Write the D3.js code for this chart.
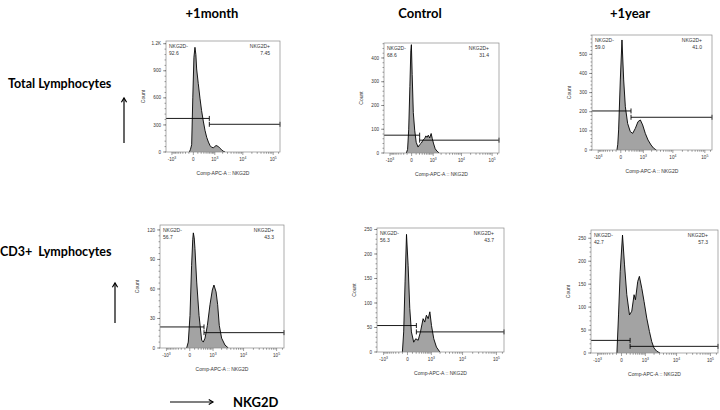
<!DOCTYPE html>
<html lang="en">
<head>
<meta charset="UTF-8">
<title>NKG2D histograms</title>
<style>
  body { margin: 0; background: #fff; }
  svg { display: block; }
  .big { font-family: Lato, "Open Sans", sans-serif; font-weight: bold; fill: #000; }
  .tiny { font-family: "Liberation Sans", Arial, sans-serif; fill: #333; }
  .hist { fill: #a3a3a3; stroke: none; }
  .outline { fill: none; stroke: #000; stroke-width: 0.9px; stroke-linejoin: round; }
  .gate { stroke: #000; stroke-width: 0.9px; fill: none; }
  .frame { fill: none; stroke: #8a8a8a; stroke-width: 0.7px; }
  .tick { stroke: #444; stroke-width: 0.5px; }
</style>
</head>
<body>
<svg width="720" height="410"></svg>
<script src="https://d3js.org/d3.v7.min.js"></script>
<script>

// ---- data ----
var columns = ["+1month", "Control", "+1year"];
var rows = ["Total Lymphocytes", "CD3+  Lymphocytes"];

// [NKG2D-APC value, count]
var histMonthTotal = [[-87,0],[-60,30],[-34,80],[-11,600],[11,1050],[32,1160],[52,1080],[70,920],
  [111,760],[161,596],[213,460],[277,343],[349,240],[431,163],[524,110],[623,72],[734,52],[869,47],
  [1000,60],[1124,72],[1260,66],[1380,61],[1543,45],[1838,25],[2066,10],[2455,0]];
var histControlTotal = [[-120,0],[-87,15],[-60,100],[-34,280],[-15,430],[-4,456],[11,330],[34,170],
  [65,96],[102,45],[154,25],[205,35],[268,42],[339,55],[413,61],[473,72],[537,66],[616,75],[709,63],
  [822,82],[918,60],[1044,38],[1197,18],[1395,8],[1702,0]];
var histYearTotal = [[-79,0],[-60,30],[-42,105],[-9,366],[22,575],[57,366],[96,226],[157,139],
  [242,96],[334,87],[455,113],[601,148],[760,157],[938,131],[1185,87],[1498,52],[1914,26],[2363,9],[2905,0]];
var histMonthCD3 = [[-60,0],[-27,6],[4,33],[34,84],[57,110],[70,117],[90,112],[108,101],[154,67],
  [225,33],[319,8],[386,6],[467,10],[594,23],[760,44],[938,59],[1078,64],[1287,57],[1467,44],
  [1668,23],[2007,10],[2597,3],[3335,0]];
var histControlCD3 = [[-102,0],[-73,41],[-44,143],[-17,240],[11,177],[42,89],[76,41],[131,20],
  [186,27],[264,24],[349,41],[467,68],[551,61],[645,75],[760,68],[879,82],[1011,54],[1222,27],
  [1513,10],[1971,0]];
var histYearCD3 = [[-90,0],[-55,83],[-22,178],[18,257],[57,192],[108,127],[179,83],[250,91],[334,127],
  [391,116],[498,156],[586,167],[734,141],[898,112],[1124,76],[1395,47],[1668,25],[1986,11],[2431,4],[3098,0]];

var negPct = ["92.6", "68.6", "59.0", "56.7", "56.3", "42.7"];
var posPct = ["7.45", "31.4", "41.0", "43.3", "43.7", "57.3"];
var gateSplit = [579, 205, 268, 419, 205, 197];
var gateNegY = [372, 75, 204, 21.4, 54, 27.5];
var gatePosY = [307, 54, 171, 15.6, 41, 14.5];
var yMax = [1230, 463, 601, 125, 253, 268];
var yTicks = [[0,300,600,900,1200],[0,100,200,300,400],[0,100,200,300,400,500],
  [0,30,60,90,120],[0,50,100,150,200,250],[0,50,100,150,200,250]];
var xMajor = [-1000, 0, 1000, 10000, 100000];
var xLabels = [["-10","3"],["0",""],["10","3"],["10","4"],["10","5"]];
var xDomain = [-1700, 167000];

var hists = [histMonthTotal, histControlTotal, histYearTotal, histMonthCD3, histControlCD3, histYearCD3];

// ---- layout ----
var svg = d3.select("svg");
var frames = [
  {l:166, r:280, t:41,  b:152},
  {l:384, r:499, t:43,  b:153},
  {l:592, r:712, t:35,  b:150},
  {l:160, r:284, t:225, b:348},
  {l:377, r:504, t:228, b:352},
  {l:591, r:718, t:230, b:353}
];

var xMinor = [];
[-900,-800,-700,-600,-500,-400,-300,-200,-100].forEach(function(v){ xMinor.push(v); });
[100,200,300,400,500,600,700,800,900].forEach(function(v){ xMinor.push(v); });
[1,10].forEach(function(m){
  for (var k = 2; k <= 9; k++) xMinor.push(k * 1000 * m);
});
xMinor.push(200000 > xDomain[1] ? 150000 : 200000);

var defs = svg.append("defs");

hists.forEach(function(data, i) {
  var f = frames[i];
  var x = d3.scaleSymlog().constant(250).domain(xDomain).range([f.l, f.r]);
  var y = d3.scaleLinear().domain([0, yMax[i]]).range([f.b, f.t]);

  defs.append("clipPath").attr("id", "clip" + i)
    .append("rect").attr("x", f.l).attr("y", f.t)
    .attr("width", f.r - f.l).attr("height", f.b - f.t);

  var g = svg.append("g");

  var area = d3.area()
    .x(function(d){ return x(d[0]); })
    .y0(y(0))
    .y1(function(d){ return y(d[1]); });
  var line = d3.line()
    .x(function(d){ return x(d[0]); })
    .y(function(d){ return y(d[1]); });

  g.append("path").datum(data).attr("class", "hist")
    .attr("clip-path", "url(#clip" + i + ")").attr("d", area);
  g.append("path").datum(data).attr("class", "outline")
    .attr("clip-path", "url(#clip" + i + ")").attr("d", line);

  // gates
  var gates = [
    [xDomain[0], gateSplit[i], gateNegY[i]],
    [gateSplit[i], xDomain[1], gatePosY[i]]
  ];
  gates.forEach(function(gt) {
    var x1 = x(gt[0]), x2 = x(gt[1]), yy = y(gt[2]);
    g.append("line").attr("class", "gate")
      .attr("x1", x1).attr("x2", x2).attr("y1", yy).attr("y2", yy);
    [x1, x2].forEach(function(xx) {
      if (xx <= f.l + 0.5) return;
      g.append("line").attr("class", "gate")
        .attr("x1", xx).attr("x2", xx).attr("y1", yy - 2.5).attr("y2", yy + 2.5);
    });
  });

  g.append("rect").attr("class", "frame")
    .attr("x", f.l).attr("y", f.t).attr("width", f.r - f.l).attr("height", f.b - f.t);

  // x axis
  var xa = g.append("g");
  xMajor.forEach(function(v, k) {
    xa.append("line").attr("class", "tick")
      .attr("x1", x(v)).attr("x2", x(v)).attr("y1", f.b).attr("y2", f.b + 3);
    var t = xa.append("text").attr("class", "tiny")
      .attr("x", x(v)).attr("y", f.b + 9)
      .attr("text-anchor", "middle").style("font-size", "4.6px")
      .text(xLabels[k][0]);
    if (xLabels[k][1]) {
      t.append("tspan").attr("dy", -2).style("font-size", "3.4px").text(xLabels[k][1]);
    }
  });
  xMinor.forEach(function(v) {
    if (v < xDomain[0] || v > xDomain[1]) return;
    xa.append("line").attr("class", "tick")
      .attr("x1", x(v)).attr("x2", x(v)).attr("y1", f.b).attr("y2", f.b + 1.8);
  });
  xa.append("text").attr("class", "tiny")
    .attr("x", (f.l + f.r) / 2).attr("y", f.b + 23)
    .attr("text-anchor", "middle").style("font-size", "5px")
    .text("Comp-APC-A :: NKG2D");

  // y axis
  var ya = g.append("g");
  var step = yTicks[i][1] - yTicks[i][0];
  for (var v = 0; v <= yMax[i]; v += step / 5) {
    ya.append("line").attr("class", "tick")
      .attr("x1", f.l - 1.5).attr("x2", f.l).attr("y1", y(v)).attr("y2", y(v));
  }
  yTicks[i].forEach(function(v) {
    ya.append("line").attr("class", "tick")
      .attr("x1", f.l - 3).attr("x2", f.l).attr("y1", y(v)).attr("y2", y(v));
    ya.append("text").attr("class", "tiny")
      .attr("x", f.l - 5).attr("y", y(v) + 1.6)
      .attr("text-anchor", "end").style("font-size", "4.6px")
      .text(v >= 1000 ? (v / 1000) + "K" : v);
  });
  ya.append("text").attr("class", "tiny")
    .attr("transform", "translate(" + (f.l - 21) + "," + ((f.t + f.b) / 2) + ") rotate(-90)")
    .attr("text-anchor", "middle").style("font-size", "5px")
    .text("Count");

  // gate labels
  g.append("text").attr("class", "tiny").style("font-size", "5px")
    .attr("x", f.l + 3).attr("y", f.t + 7).text("NKG2D-");
  g.append("text").attr("class", "tiny").style("font-size", "5px")
    .attr("x", f.l + 3).attr("y", f.t + 14).text(negPct[i]);
  g.append("text").attr("class", "tiny").style("font-size", "5px")
    .attr("text-anchor", "end").attr("x", f.r - 10).attr("y", f.t + 7).text("NKG2D+");
  g.append("text").attr("class", "tiny").style("font-size", "5px")
    .attr("text-anchor", "end").attr("x", f.r - 10).attr("y", f.t + 14).text(posPct[i]);
});

// column titles
var colX = [212, 420, 630];
columns.forEach(function(c, k) {
  svg.append("text").attr("class", "big").style("font-size", "13px")
    .attr("x", colX[k]).attr("y", 18).attr("text-anchor", "middle").text(c);
});

// row labels
var rowPos = [{x: 8, y: 88}, {x: 0, y: 256}];
rows.forEach(function(r, k) {
  svg.append("text").attr("class", "big").style("font-size", "12.5px")
    .style("white-space", "pre").attr("xml:space", "preserve")
    .attr("x", rowPos[k].x).attr("y", rowPos[k].y).text(r);
});

function arrow(x1, y1, x2, y2) {
  var a = Math.atan2(y2 - y1, x2 - x1), h = 5;
  svg.append("line").attr("x1", x1).attr("y1", y1).attr("x2", x2).attr("y2", y2)
    .attr("stroke", "#000").attr("stroke-width", 1.2);
  svg.append("path")
    .attr("d", "M" + (x2 - h * Math.cos(a - 0.55)) + "," + (y2 - h * Math.sin(a - 0.55)) +
      "L" + x2 + "," + y2 +
      "L" + (x2 - h * Math.cos(a + 0.55)) + "," + (y2 - h * Math.sin(a + 0.55)))
    .attr("fill", "none").attr("stroke", "#000").attr("stroke-width", 1.2);
}
arrow(124, 143, 124, 98);
arrow(115, 323, 115, 283);
arrow(170, 402, 213, 402);

svg.append("text").attr("class", "big").style("font-size", "13px")
  .attr("x", 233).attr("y", 407).text("NKG2D");

</script>
</body>
</html>
